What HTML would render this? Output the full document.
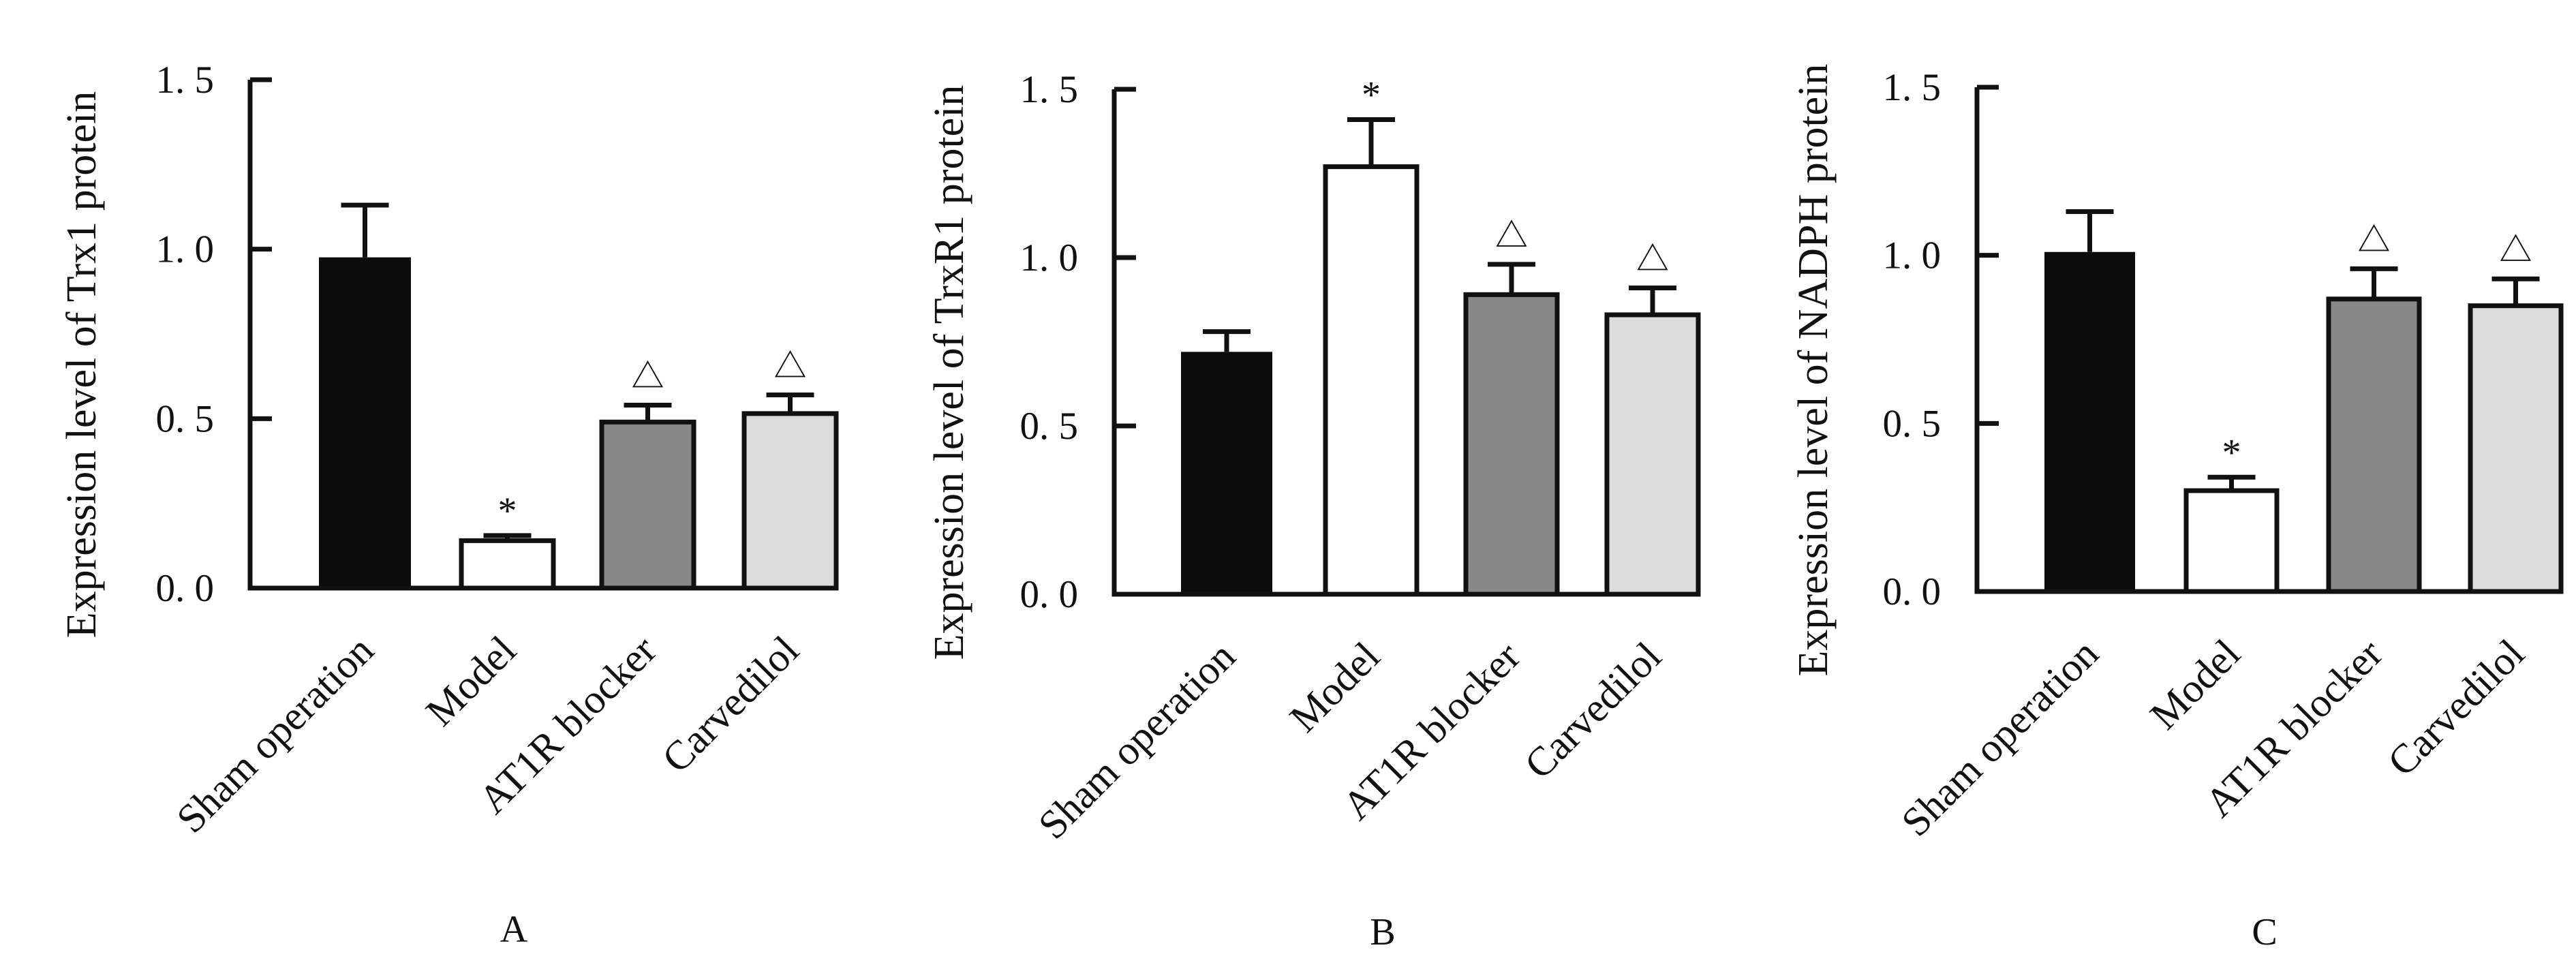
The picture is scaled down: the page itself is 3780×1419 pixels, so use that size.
<!DOCTYPE html>
<html><head><meta charset="utf-8"><style>
html,body{margin:0;padding:0;background:#fff;}
svg{display:block;}
text{font-family:"Liberation Serif","Noto Serif CJK SC",serif;fill:#111;}
</style></head><body>
<svg id="chart" width="3780" height="1419" viewBox="0 0 3780 1419"></svg>
<script>
const categories = ["Sham operation","Model","AT1R blocker","Carvedilol"];
const panelLetters = ["A","B","C"];
const yTitles = ["Expression level of Trx1 protein","Expression level of TrxR1 protein","Expression level of NADPH protein"];
const tickValues = [0,0.5,1.0,1.5];
const tickLabels = ["0. 0","0. 5","1. 0","1. 5"];
const valuesA = [0.976,0.14,0.49,0.515];
const errorsA = [1.13,0.155,0.54,0.57];
const valuesB = [0.72,1.27,0.89,0.83];
const errorsB = [0.78,1.41,0.98,0.91];
const valuesC = [1.01,0.30,0.87,0.85];
const errorsC = [1.13,0.34,0.96,0.93];
const marksA = ["","*","△","△"];
const marksB = ["","*","△","△"];
const marksC = ["","*","△","△"];
const fills = ["#0b0b0b","#ffffff","#888888","#dcdcdc"];

const layouts = [
  {ax:367, y0:863, y15:117, x1:1227, barL:[468,677,883,1092], bw:135, letterX:754, letterY:1382, titleX:120},
  {ax:1635, y0:872, y15:131, x1:2494, barL:[1733,1945,2151,2358], bw:134, letterX:2029, letterY:1386, titleX:1393},
  {ax:2901, y0:868, y15:128, x1:3758, barL:[3000,3208,3417,3625], bw:133, letterX:3323, letterY:1386, titleX:2661}
];
const vals=[valuesA,valuesB,valuesC], errs=[errorsA,errorsB,errorsC], marks=[marksA,marksB,marksC];
const svg=document.getElementById('chart');
const NS="http://www.w3.org/2000/svg";
function mk(tag,attrs,parent){const e=document.createElementNS(NS,tag);for(const k in attrs)e.setAttribute(k,attrs[k]);parent.appendChild(e);return e;}

layouts.forEach((L,p)=>{
  const g=mk('g',{},svg);
  
  
  const yScale=v=>L.y0-(v/1.5)*(L.y0-L.y15);
  vals[p].forEach((v,i)=>{
    const x=L.barL[i], cx=x+L.bw/2;
    const ey=yScale(errs[p][i]), ty=yScale(v);
    const eb=mk('g',{},g);
    
    
    mk('line',{x1:cx,x2:cx,y1:ty,y2:ey,stroke:'#111','stroke-width':7},eb);
    mk('line',{x1:cx-35,x2:cx+35,y1:ey,y2:ey,stroke:'#111','stroke-width':7},eb);
    const r=mk('rect',{x:x,y:ty,width:L.bw,height:L.y0-ty,fill:fills[i],stroke:'#111','stroke-width':i===0?0:7},g);
    
    
    if(marks[p][i]){
      const isStar=marks[p][i]==='*';
      const t=mk('text',{x:cx,y:ey-(isStar?18:26),'text-anchor':'middle','font-size':isStar?56:48},g);
      t.textContent=marks[p][i];
      
      
    }
    const lx=cx+16, ly=L.y0+95;
    const c=mk('text',{x:lx,y:ly,'text-anchor':'end','font-size':60,transform:`rotate(-45 ${lx} ${ly})`},g);
    c.textContent=categories[i];
    
    
  });
  const ax=mk('g',{},g);
  
  
  mk('path',{d:`M${L.ax} ${L.y15} V${L.y0} H${L.x1}`,fill:'none',stroke:'#111','stroke-width':7},ax);
  tickValues.forEach((tv,k)=>{
    const y=yScale(tv);
    mk('line',{x1:L.ax,x2:L.ax+32,y1:y,y2:y,stroke:'#111','stroke-width':7},ax);
    const t=mk('text',{x:L.ax-53,y:y+19,'text-anchor':'end','font-size':57,'font-family':'"Noto Serif CJK SC","Liberation Serif",serif'},ax);
    t.textContent=tickLabels[k];
    
    
  });
  const cy=(L.y0+L.y15)/2+45;
  const yt=mk('text',{x:L.titleX+20,y:cy,'text-anchor':'middle','font-size':62,transform:`rotate(-90 ${L.titleX+20} ${cy})`},g);
  yt.textContent=yTitles[p];
  
  
  const lt=mk('text',{x:L.letterX,y:L.letterY,'text-anchor':'middle','font-size':56},g);
  lt.textContent=panelLetters[p];
  
  
});
</script>
</body></html>
